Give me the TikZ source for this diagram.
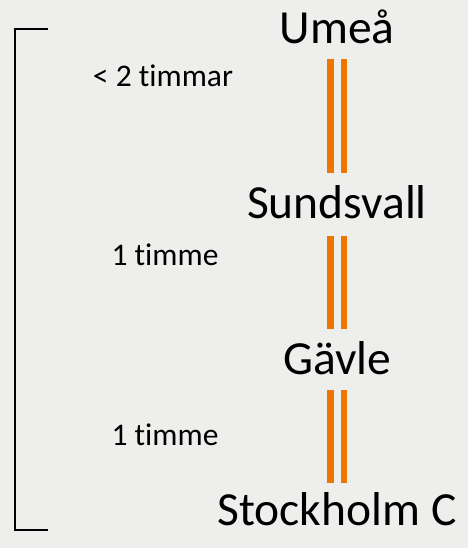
\documentclass[tikz,border=0pt]{standalone}
\usepackage{fontspec}
\setmainfont{Carlito}[Ligatures={NoCommon,NoContextual}]
\definecolor{paper}{RGB}{238,238,237}
\definecolor{rail}{RGB}{238,118,0}
\begin{document}
\begin{tikzpicture}[x=1pt,y=-1pt,
  station/.style={anchor=base,inner sep=0pt,font=\fontsize{47.5}{52}\selectfont},
  duration/.style={anchor=base,inner sep=0pt,font=\fontsize{31.5}{35}\selectfont},
  railbar/.style={fill=rail,draw=none},
  bracket/.style={draw=black,line width=1.8pt}]
  % paper background
  \fill[paper] (0,0) rectangle (468,548);
  \useasboundingbox (0,0) rectangle (468,548);

  % stations
  \node[station] (umea) at (337,43.5) {Umeå};
  \node[station] (sundsvall) at (337,218) {Sundsvall};
  \node[station] (gavle) at (337,374) {Gävle};
  \node[station] (sthlm) at (337,525) {Stockholm C};

  % travel times
  \node[duration] (t1) at (163,87) {< 2 timmar};
  \node[duration] (t2) at (165,265) {1 timme};
  \node[duration] (t3) at (165,445) {1 timme};

  % double rails between stations
  \foreach \ya/\yb in {59.5/172.5, 236/329, 390/483}{
    \fill[railbar] (327,\ya) rectangle (333.5,\yb);
    \fill[railbar] (340.5,\ya) rectangle (347,\yb);
  }

  % bracket spanning the whole trip
  \coordinate (btop) at (48,29);
  \coordinate (bbot) at (48,530);
  \draw[bracket] (btop) -- (15,29) -- (15,530) -- (bbot);
\end{tikzpicture}
\end{document}
